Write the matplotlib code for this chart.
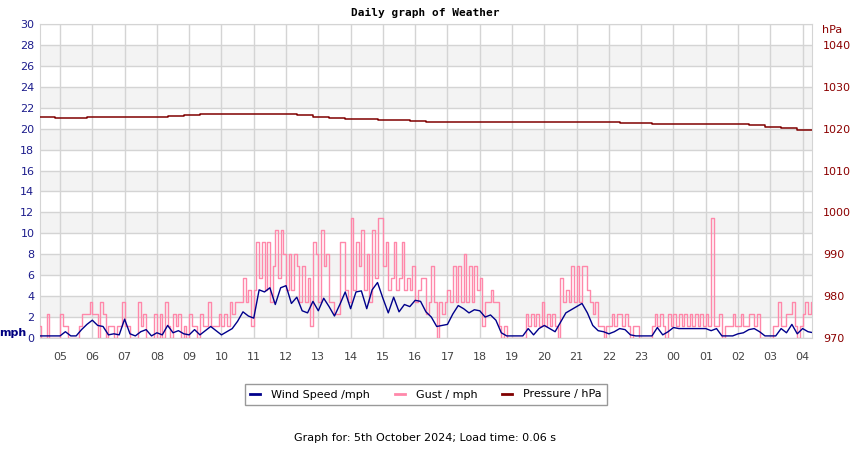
import numpy as np
import matplotlib
matplotlib.use('Agg')
import matplotlib.pyplot as plt
from matplotlib.lines import Line2D
plt.rcParams.update({'font.size': 8, 'font.family': 'DejaVu Sans'})


# hour labels along the bottom (05 of the day through 04 of the next)
hour_labels = ['05', '06', '07', '08', '09', '10', '11', '12', '13', '14', '15', '16',
               '17', '18', '19', '20', '21', '22', '23', '00', '01', '02', '03', '04']

# first sample is 04:20, wind every 10 min, gust every 5 min, pressure every 30 min
start_hour = 4 + 20 / 60

# wind speed / mph, 10 minute samples
wind_speed = [
    0.2, 0.2, 0.2, 0.2,
    0.2, 0.6, 0.2, 0.2, 0.8, 1.3,
    1.7, 1.2, 1.1, 0.3, 0.4, 0.3,
    1.8, 0.4, 0.2, 0.6, 0.8, 0.2,
    0.5, 0.3, 1.2, 0.5, 0.7, 0.4,
    0.3, 0.8, 0.3, 0.7, 1.1, 0.7,
    0.3, 0.6, 0.9, 1.6, 2.5, 2.1,
    1.9, 4.6, 4.4, 4.8, 3.2, 4.8,
    5.0, 3.3, 3.9, 2.6, 2.4, 3.5,
    2.6, 3.8, 3.0, 2.1, 3.2, 4.4,
    2.8, 4.4, 4.5, 2.8, 4.6, 5.3,
    3.8, 2.4, 3.9, 2.5, 3.2, 3.0,
    3.6, 3.5, 2.5, 2.0, 1.1, 1.2,
    1.3, 2.3, 3.1, 2.8, 2.4, 2.7,
    2.6, 2.0, 2.2, 1.7, 0.5, 0.2,
    0.2, 0.2, 0.2, 0.9, 0.3, 0.9,
    1.2, 0.9, 0.6, 1.5, 2.4, 2.7,
    3.0, 3.3, 2.4, 1.2, 0.7, 0.6,
    0.4, 0.6, 0.9, 0.8, 0.3, 0.2,
    0.2, 0.2, 0.2, 1.0, 0.3, 0.6,
    1.0, 0.9, 0.9, 0.9, 0.9, 0.9,
    0.9, 0.7, 0.9, 0.2, 0.2, 0.2,
    0.4, 0.5, 0.8, 0.9, 0.6, 0.2,
    0.2, 0.2, 0.9, 0.5, 1.3, 0.4,
    0.9, 0.6, 0.5,
]

# gust in knots, 5 minute samples (converted to mph below)
gust_knots = [
    1, 0, 0, 2, 0, 0, 0, 0,
    2, 1, 1, 0, 0, 0, 0, 1, 2, 2, 2, 3,
    2, 2, 0, 3, 2, 0, 1, 1, 0, 1, 1, 3,
    1, 1, 0, 0, 0, 3, 1, 2, 0, 0, 0, 2,
    0, 2, 0, 3, 1, 0, 2, 1, 2, 0, 1, 0,
    2, 1, 1, 0, 2, 1, 1, 3, 1, 1, 1, 2,
    1, 2, 1, 3, 2, 3, 3, 3, 5, 3, 4, 1,
    4, 8, 5, 8, 4, 8, 3, 6, 9, 5, 9, 7,
    4, 7, 4, 7, 6, 3, 6, 3, 5, 1, 8, 7,
    3, 9, 6, 7, 3, 3, 2, 2, 8, 8, 4, 3,
    10, 4, 8, 6, 9, 4, 7, 3, 9, 5, 10, 10,
    6, 8, 4, 5, 8, 4, 5, 8, 4, 5, 4, 6,
    3, 4, 5, 5, 2, 3, 6, 3, 0, 3, 2, 3,
    4, 3, 6, 3, 6, 3, 7, 3, 6, 3, 6, 4,
    5, 1, 3, 3, 4, 3, 3, 1, 0, 1, 0, 0,
    0, 0, 0, 0, 0, 2, 1, 2, 1, 2, 1, 3,
    1, 2, 1, 2, 1, 0, 5, 3, 4, 3, 6, 3,
    6, 3, 6, 6, 4, 3, 2, 3, 1, 1, 0, 1,
    1, 2, 1, 2, 2, 1, 2, 1, 0, 1, 1, 0,
    0, 0, 0, 0, 1, 2, 1, 2, 1, 0, 2, 1,
    2, 1, 2, 1, 2, 1, 2, 1, 2, 1, 2, 1,
    2, 1, 10, 1, 1, 2, 0, 1, 1, 1, 2, 1,
    1, 2, 1, 1, 2, 2, 1, 2, 0, 0, 0, 0,
    0, 1, 1, 3, 1, 1, 2, 2, 3, 1, 0, 1,
    2, 3, 2, 3, 1,
]

# pressure / hPa, 30 minute samples
pressure = [
    1022.7, 1022.5, 1022.5, 1022.7, 1022.7, 1022.7, 1022.8, 1022.8,
    1023.1, 1023.2, 1023.4, 1023.6, 1023.6, 1023.6, 1023.4, 1023.4,
    1023.2, 1022.9, 1022.6, 1022.4, 1022.2, 1022.1, 1022.0, 1021.8,
    1021.6, 1021.6, 1021.6, 1021.7, 1021.7, 1021.7, 1021.7, 1021.6,
    1021.7, 1021.7, 1021.6, 1021.6, 1021.4, 1021.4, 1021.2, 1021.0,
    1021.0, 1021.0, 1021.0, 1021.0, 1020.8, 1020.4, 1020.1, 1019.8,
    1019.5,
]

WIND_COLOR = '#00008b'
GUST_COLOR = '#ff88aa'
PRESS_COLOR = '#800000'
GRID_COLOR = '#d4d4d4'


def plot_weather():

	# time axes for each series
	t_wind = start_hour + np.arange(len(wind_speed)) / 6
	t_gust = start_hour + np.arange(len(gust_knots)) / 12
	t_press = start_hour + np.arange(len(pressure)) / 2
	gust = np.array(gust_knots) * 1.1508

	fig = plt.figure(figsize=(8.5, 4.5), dpi=100)
	ax = fig.add_axes([40 / 850, 1 - 338 / 450, 772 / 850, 314 / 450])

	# alternating background bands and grid
	for lo in range(2, 30, 4):
		ax.axhspan(lo, lo + 2, color='#f3f3f3', zorder=0, lw=0)
	ax.set_ylim(0, 30)
	ax.set_xlim(4.38, 28.29)
	ax.set_yticks(np.arange(0, 31, 2))
	ax.set_xticks(np.arange(5, 29))
	ax.set_xticklabels(hour_labels)
	ax.grid(True, color=GRID_COLOR, lw=1, zorder=1)
	ax.set_axisbelow(True)
	ax.tick_params(axis='y', length=0, pad=4, colors='#1c1c8c', labelsize=8)
	ax.tick_params(axis='x', length=0, pad=10, colors='#444444', labelsize=8)
	for s in ax.spines.values():
		s.set_color(GRID_COLOR)

	# wind and gust
	ax.plot(t_gust, gust, color=GUST_COLOR, lw=1, drawstyle='steps-post', zorder=3)
	ax.plot(t_wind, wind_speed, color=WIND_COLOR, lw=1, zorder=4)

	# pressure on the right axis
	ax2 = ax.twinx()
	ax2.set_ylim(970, 1045)
	ax2.set_yticks(np.arange(970, 1041, 10))
	ax2.tick_params(axis='y', length=0, pad=8, colors='#8b0000', labelsize=8)
	for s in ax2.spines.values():
		s.set_visible(False)
	ax2.plot(t_press, pressure, color=PRESS_COLOR, lw=1.1, drawstyle='steps-post', zorder=5)

	# texts
	fig.text(0.5, 1 - 13 / 450, 'Daily graph of Weather', ha='center', va='center',
	         family='DejaVu Sans Mono', weight='bold', fontsize=8)
	fig.text(13 / 850, 1 - 333 / 450, 'mph', ha='center', va='center',
	         weight='bold', color='#000080', fontsize=8)
	fig.text(832 / 850, 1 - 30 / 450, 'hPa', ha='center', va='center',
	         color='#8b0000', fontsize=8)
	fig.text(0.5, 1 - 438 / 450, 'Graph for: 5th October 2024; Load time: 0.06 s',
	         ha='center', va='center', fontsize=8)

	# legend under the plot
	handles = [Line2D([0], [0], color=WIND_COLOR, lw=2),
	           Line2D([0], [0], color=GUST_COLOR, lw=2),
	           Line2D([0], [0], color=PRESS_COLOR, lw=2)]
	labels = ['Wind Speed /mph', 'Gust / mph', 'Pressure / hPa']
	leg = fig.legend(handles, labels, loc='center', bbox_to_anchor=(426 / 850, 1 - 394.5 / 450),
	                 ncol=3, fancybox=False, handlelength=0.9, handletextpad=1.0,
	                 columnspacing=2.2, borderpad=0.5, fontsize=8)
	leg.get_frame().set_edgecolor('#808080')
	leg.get_frame().set_linewidth(1)

	fig.savefig('out.png', dpi=100)


def main():
	plot_weather()


if __name__ == '__main__':
	main()
